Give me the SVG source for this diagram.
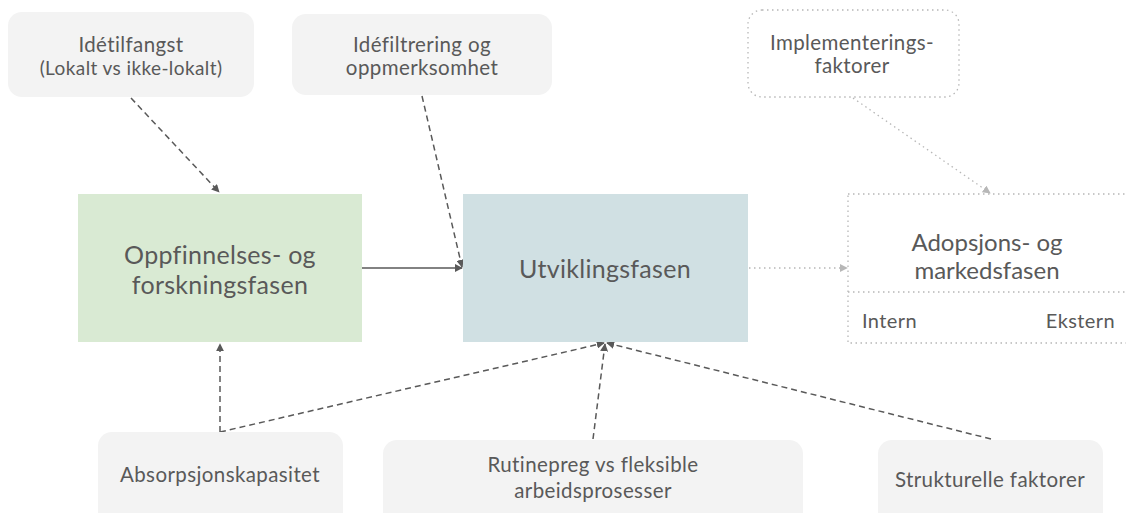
<svg xmlns="http://www.w3.org/2000/svg" width="1126" height="513" viewBox="0 0 1126 513">
<defs>
<style>
.t{font-family:Lato,"Open Sans","Liberation Sans",sans-serif;fill:#595959;text-anchor:middle;font-weight:400}
.s{font-size:20.5px;letter-spacing:0.4px}
.xs{font-size:19px;letter-spacing:0.4px}
.l{font-size:25px;letter-spacing:0.3px}
.m{font-size:24px}
.side{font-size:20px;letter-spacing:0.4px}
.gbox{fill:#f3f3f3}
.dash{fill:none;stroke:#595959;stroke-width:1.5;stroke-dasharray:6 4}
.dot{fill:none;stroke:#b7b7b7;stroke-width:1.3;stroke-dasharray:1.5 3.5}
</style>
<marker id="ah" viewBox="0 0 10 10" refX="9" refY="5" markerWidth="8" markerHeight="8" markerUnits="userSpaceOnUse" orient="auto">
<path d="M0,0 L10,5 L0,10 z" fill="#595959"/>
</marker>
<marker id="ahg" viewBox="0 0 10 10" refX="9" refY="5" markerWidth="8" markerHeight="8" markerUnits="userSpaceOnUse" orient="auto">
<path d="M0,0 L10,5 L0,10 z" fill="#b7b7b7"/>
</marker>
</defs>
<rect width="1126" height="513" fill="#ffffff"/>

<g id="connectors">
<path class="dash" d="M131,98 L219,192" marker-end="url(#ah)"/>
<path class="dash" d="M422,96 L462,267" marker-end="url(#ah)"/>
<path d="M362,268 L462,268" fill="none" stroke="#595959" stroke-width="1.5" marker-end="url(#ah)"/>
<path class="dot" d="M853,98 L990,193" marker-end="url(#ahg)"/>
<path class="dot" d="M749,268 L847,268" marker-end="url(#ahg)"/>
<path class="dash" d="M220,432 L220,344" marker-end="url(#ah)"/>
<path class="dash" d="M220,432 L604,343" marker-end="url(#ah)"/>
<path class="dash" d="M593,439 L605,344" marker-end="url(#ah)"/>
<path class="dash" d="M991,439 L607,343" marker-end="url(#ah)"/>
</g>

<g id="idetilfangst">
<rect class="gbox" x="8" y="12" width="246" height="85" rx="14"/>
<text class="t s" x="131" y="52">Idétilfangst</text>
<text class="t xs" x="131" y="75">(Lokalt vs ikke-lokalt)</text>
</g>

<g id="idefiltrering">
<rect class="gbox" x="292" y="14" width="260" height="81" rx="14"/>
<text class="t s" x="422" y="52">Idéfiltrering og</text>
<text class="t s" x="422" y="75">oppmerksomhet</text>
</g>

<g id="implementering">
<rect class="dot" x="748" y="10" width="211" height="87" rx="14"/>
<text class="t s" x="852" y="50">Implementerings-</text>
<text class="t s" x="852" y="73">faktorer</text>
</g>

<g id="oppfinnelse">
<rect x="78" y="194" width="284" height="148" fill="#d9ead3"/>
<text class="t l" x="220" y="264">Oppfinnelses- og</text>
<text class="t l" x="220" y="294">forskningsfasen</text>
</g>

<g id="utvikling">
<rect x="463" y="194" width="285" height="148" fill="#d0e0e3"/>
<text class="t l" x="605" y="278">Utviklingsfasen</text>
</g>

<g id="adopsjon">
<rect class="dot" x="848" y="194" width="300" height="149"/>
<line class="dot" x1="848" y1="292" x2="1126" y2="292"/>
<text class="t m" x="987" y="251">Adopsjons- og</text>
<text class="t m" x="987" y="279">markedsfasen</text>
<text class="t side" x="862" y="328" style="text-anchor:start">Intern</text>
<text class="t side" x="1115" y="328" style="text-anchor:end">Ekstern</text>
</g>

<g id="absorpsjon">
<rect class="gbox" x="98" y="432" width="245" height="95" rx="14"/>
<text class="t s" x="220" y="482">Absorpsjonskapasitet</text>
</g>

<g id="rutinepreg">
<rect class="gbox" x="383" y="440" width="420" height="90" rx="14"/>
<text class="t s" x="593" y="472">Rutinepreg vs fleksible</text>
<text class="t s" x="593" y="498">arbeidsprosesser</text>
</g>

<g id="strukturelle">
<rect class="gbox" x="878" y="440" width="225" height="90" rx="14"/>
<text class="t s" x="990" y="487">Strukturelle faktorer</text>
</g>
</svg>
